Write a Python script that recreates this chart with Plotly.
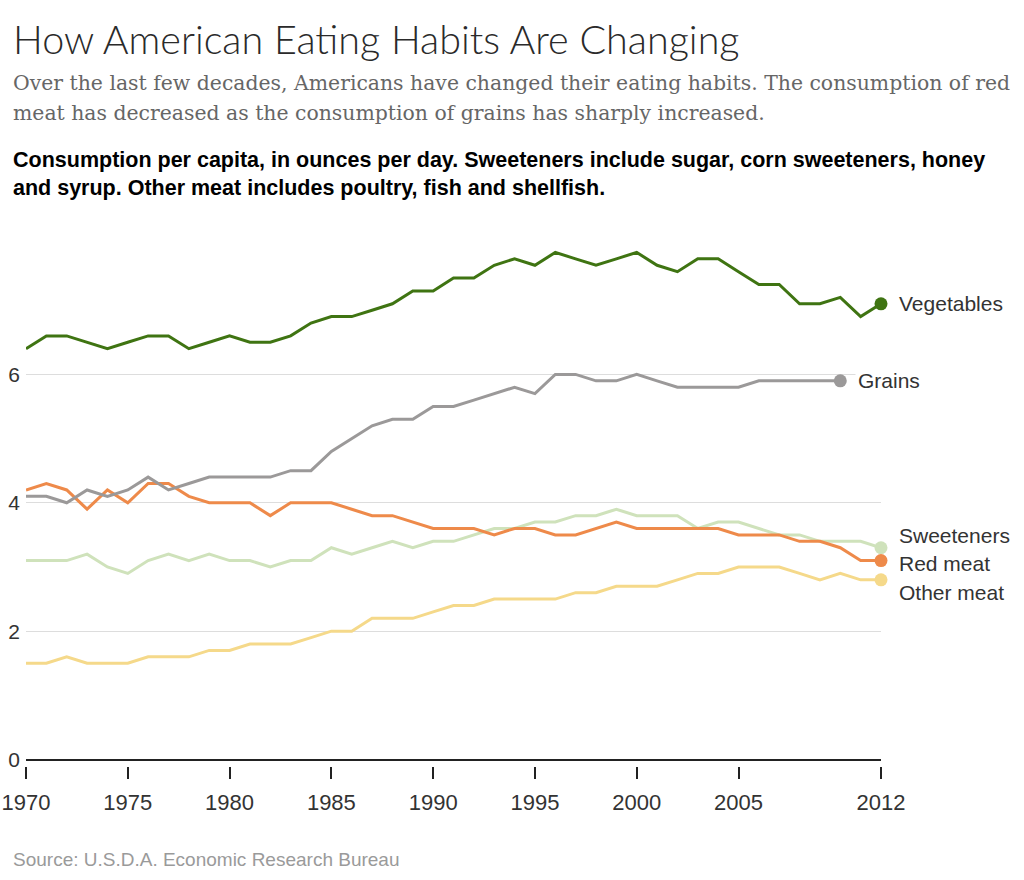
import plotly.graph_objects as go

years = list(range(1970, 2013))

vegetables = [6.4, 6.6, 6.6, 6.5, 6.4, 6.5, 6.6, 6.6, 6.4, 6.5,
              6.6, 6.5, 6.5, 6.6, 6.8, 6.9, 6.9, 7.0, 7.1, 7.3,
              7.3, 7.5, 7.5, 7.7, 7.8, 7.7, 7.9, 7.8, 7.7, 7.8,
              7.9, 7.7, 7.6, 7.8, 7.8, 7.6, 7.4, 7.4, 7.1, 7.1,
              7.2, 6.9, 7.1]

grains = [4.1, 4.1, 4.0, 4.2, 4.1, 4.2, 4.4, 4.2, 4.3, 4.4,
          4.4, 4.4, 4.4, 4.5, 4.5, 4.8, 5.0, 5.2, 5.3, 5.3,
          5.5, 5.5, 5.6, 5.7, 5.8, 5.7, 6.0, 6.0, 5.9, 5.9,
          6.0, 5.9, 5.8, 5.8, 5.8, 5.8, 5.9, 5.9, 5.9, 5.9,
          5.9]  # through 2010

sweeteners = [3.1, 3.1, 3.1, 3.2, 3.0, 2.9, 3.1, 3.2, 3.1, 3.2,
              3.1, 3.1, 3.0, 3.1, 3.1, 3.3, 3.2, 3.3, 3.4, 3.3,
              3.4, 3.4, 3.5, 3.6, 3.6, 3.7, 3.7, 3.8, 3.8, 3.9,
              3.8, 3.8, 3.8, 3.6, 3.7, 3.7, 3.6, 3.5, 3.5, 3.4,
              3.4, 3.4, 3.3]

red_meat = [4.2, 4.3, 4.2, 3.9, 4.2, 4.0, 4.3, 4.3, 4.1, 4.0,
            4.0, 4.0, 3.8, 4.0, 4.0, 4.0, 3.9, 3.8, 3.8, 3.7,
            3.6, 3.6, 3.6, 3.5, 3.6, 3.6, 3.5, 3.5, 3.6, 3.7,
            3.6, 3.6, 3.6, 3.6, 3.6, 3.5, 3.5, 3.5, 3.4, 3.4,
            3.3, 3.1, 3.1]

other_meat = [1.5, 1.5, 1.6, 1.5, 1.5, 1.5, 1.6, 1.6, 1.6, 1.7,
              1.7, 1.8, 1.8, 1.8, 1.9, 2.0, 2.0, 2.2, 2.2, 2.2,
              2.3, 2.4, 2.4, 2.5, 2.5, 2.5, 2.5, 2.6, 2.6, 2.7,
              2.7, 2.7, 2.8, 2.9, 2.9, 3.0, 3.0, 3.0, 2.9, 2.8,
              2.9, 2.8, 2.8]

tick_years = [1970, 1975, 1980, 1985, 1990, 1995, 2000, 2005, 2012]
y_ticks = [0, 2, 4, 6]

series = [
    ("Other meat", other_meat, "#f5d98a", -13),
    ("Sweeteners", sweeteners, "#cfe2bb", 12),
    ("Red meat", red_meat, "#ee8a4a", -3),
    ("Grains", grains, "#9b9999", 0),
    ("Vegetables", vegetables, "#3f7412", 0),
]

# plot area in pixels
L, R, T, B = 26, 881, 246, 766
W, H = 1024, 880


def px(x):
    return (x - L) / (R - L)


def py(y):
    return (B - y) / (B - T)


SANS = "Liberation Sans, Arial, sans-serif"

fig = go.Figure()
annotations = []
for name, vals, color, yshift in series:
    xs = years[:len(vals)]
    fig.add_trace(go.Scatter(
        x=xs, y=vals, mode="lines", line=dict(color=color, width=3),
        hoverinfo="skip", showlegend=False))
    fig.add_trace(go.Scatter(
        x=[xs[-1]], y=[vals[-1]], mode="markers",
        marker=dict(color=color, size=13), cliponaxis=False,
        hoverinfo="skip", showlegend=False))
    annotations.append(dict(
        x=xs[-1], y=vals[-1], xref="x", yref="y", text=name,
        showarrow=False, xanchor="left", yanchor="middle",
        xshift=15, yshift=yshift, bgcolor="white", borderpad=2,
        font=dict(family=SANS, size=21, color="#333")))

annotations += [
    dict(x=px(11), y=py(38), xref="paper", yref="paper", xanchor="left", yanchor="middle",
         text="How American Eating Habits Are Changing", showarrow=False,
         font=dict(family="Lato, sans-serif", size=39.5, color="#2a2a2a", weight=300)),
    dict(x=px(11), y=py(83), xref="paper", yref="paper", xanchor="left", yanchor="middle",
         text="Over the last few decades, Americans have changed their eating habits. The consumption of red",
         showarrow=False, font=dict(family="DejaVu Serif, serif", size=20.4, color="#666")),
    dict(x=px(11), y=py(113), xref="paper", yref="paper", xanchor="left", yanchor="middle",
         text="meat has decreased as the consumption of grains has sharply increased.",
         showarrow=False, font=dict(family="DejaVu Serif, serif", size=20.4, color="#666")),
    dict(x=px(11), y=py(160), xref="paper", yref="paper", xanchor="left", yanchor="middle",
         text="<b>Consumption per capita, in ounces per day. Sweeteners include sugar, corn sweeteners, honey</b>",
         showarrow=False, font=dict(family=SANS, size=21.5, color="#000")),
    dict(x=px(11), y=py(188), xref="paper", yref="paper", xanchor="left", yanchor="middle",
         text="<b>and syrup. Other meat includes poultry, fish and shellfish.</b>",
         showarrow=False, font=dict(family=SANS, size=21.5, color="#000")),
    dict(x=px(11), y=py(859), xref="paper", yref="paper", xanchor="left", yanchor="middle",
         text="Source: U.S.D.A. Economic Research Bureau",
         showarrow=False, font=dict(family=SANS, size=19, color="#9a9a9a")),
]

fig.update_layout(
    width=W, height=H,
    margin=dict(l=L, r=W - R, t=T, b=H - B, pad=0, autoexpand=False),
    paper_bgcolor="white", plot_bgcolor="white",
    annotations=annotations,
    xaxis=dict(range=[1970, 2012], tickvals=tick_years, ticktext=[str(t) for t in tick_years],
               showgrid=False, zeroline=False, showline=False, automargin=False,
               ticks="outside", ticklen=12, tickwidth=2, tickcolor="#222", ticklabelstandoff=5,
               tickfont=dict(family=SANS, size=22, color="#333")),
    yaxis=dict(range=[-0.1, 8.0], tickvals=y_ticks, showgrid=True, gridcolor="#dddddd", gridwidth=1,
               zeroline=True, zerolinecolor="#222", zerolinewidth=2, showline=False,
               ticks="", ticklabelstandoff=5, automargin=False,
               tickfont=dict(family=SANS, size=21, color="#333")),
)

fig.write_html("out.html", config={"displayModeBar": False},
               post_script="document.body.style.margin='0';")
